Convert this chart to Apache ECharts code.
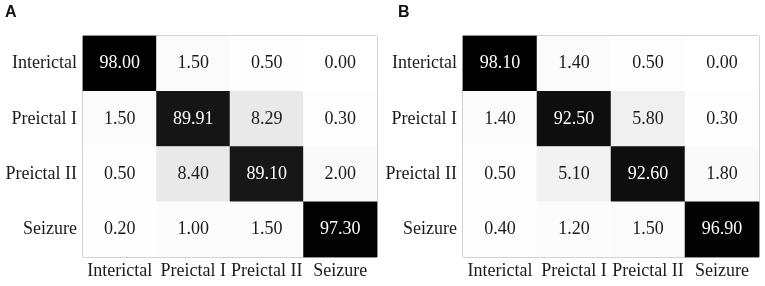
<!DOCTYPE html>
<html>
<head>
<meta charset="utf-8">
<script src="https://cdn.jsdelivr.net/npm/echarts@6/dist/echarts.min.js"></script>
<style>
  html, body { margin: 0; padding: 0; background: #fff; }
  #chart { width: 765px; height: 286px; }
</style>
</head>
<body>
<div id="chart"></div>
<script>
// confusion matrices, rows = true class (top to bottom), cols = predicted class
var classes = ['Interictal', 'Preictal I', 'Preictal II', 'Seizure'];
var matrixA = [
  [98.00, 1.50, 0.50, 0.00],
  [1.50, 89.91, 8.29, 0.30],
  [0.50, 8.40, 89.10, 2.00],
  [0.20, 1.00, 1.50, 97.30]
];
var matrixB = [
  [98.10, 1.40, 0.50, 0.00],
  [1.40, 92.50, 5.80, 0.30],
  [0.50, 5.10, 92.60, 1.80],
  [0.40, 1.20, 1.50, 96.90]
];
var panelLabels = ['A', 'B'];

(function () {
  var serif = '"Liberation Serif", "DejaVu Serif", serif';
  var sans = 'Arial, "Liberation Sans", sans-serif';
  var ink = '#1a1a1a';

  function cells(m) {
    var out = [];
    m.forEach(function (row, r) {
      row.forEach(function (v, c) {
        out.push({
          value: [c, r, v],
          label: { color: v > 50 ? '#ffffff' : ink }
        });
      });
    });
    return out;
  }

  function xAxis(i) {
    return {
      type: 'category', gridIndex: i, data: classes,
      axisLine: { show: false }, axisTick: { show: false },
      splitLine: { show: false },
      axisLabel: { color: ink, fontFamily: serif, fontSize: 18, margin: 5, interval: 0 }
    };
  }
  function yAxis(i) {
    return {
      type: 'category', gridIndex: i, data: classes, inverse: true,
      axisLine: { show: false }, axisTick: { show: false },
      splitLine: { show: false },
      axisLabel: { color: ink, fontFamily: serif, fontSize: 18, margin: 6 }
    };
  }
  function series(i, m) {
    return {
      type: 'heatmap', xAxisIndex: i, yAxisIndex: i,
      data: cells(m),
      label: {
        show: true, fontFamily: serif, fontSize: 18,
        formatter: function (p) { return p.value[2].toFixed(2); }
      },
      emphasis: { disabled: true }
    };
  }

  var chart = echarts.init(document.getElementById('chart'), null, { renderer: 'canvas' });
  chart.setOption({
    animation: false,
    backgroundColor: '#fff',
    title: [
      { text: panelLabels[0], left: 0, top: 0, textStyle: { fontFamily: sans, fontWeight: 'bold', fontSize: 16, color: '#111' } },
      { text: panelLabels[1], left: 393, top: 0, textStyle: { fontFamily: sans, fontWeight: 'bold', fontSize: 16, color: '#111' } }
    ],
    grid: [
      { left: 83, top: 36, width: 294, height: 221, show: true, borderColor: '#8a8a8a', borderWidth: 1, backgroundColor: 'transparent' },
      { left: 463, top: 36, width: 296, height: 221, show: true, borderColor: '#8a8a8a', borderWidth: 1, backgroundColor: 'transparent' }
    ],
    xAxis: [xAxis(0), xAxis(1)],
    yAxis: [yAxis(0), yAxis(1)],
    visualMap: {
      show: false, type: 'continuous', dimension: 2,
      min: 0, max: 98, seriesIndex: [0, 1],
      inRange: { color: ['#ffffff', '#000000'] }
    },
    series: [series(0, matrixA), series(1, matrixB)]
  });
})();
</script>
</body>
</html>
